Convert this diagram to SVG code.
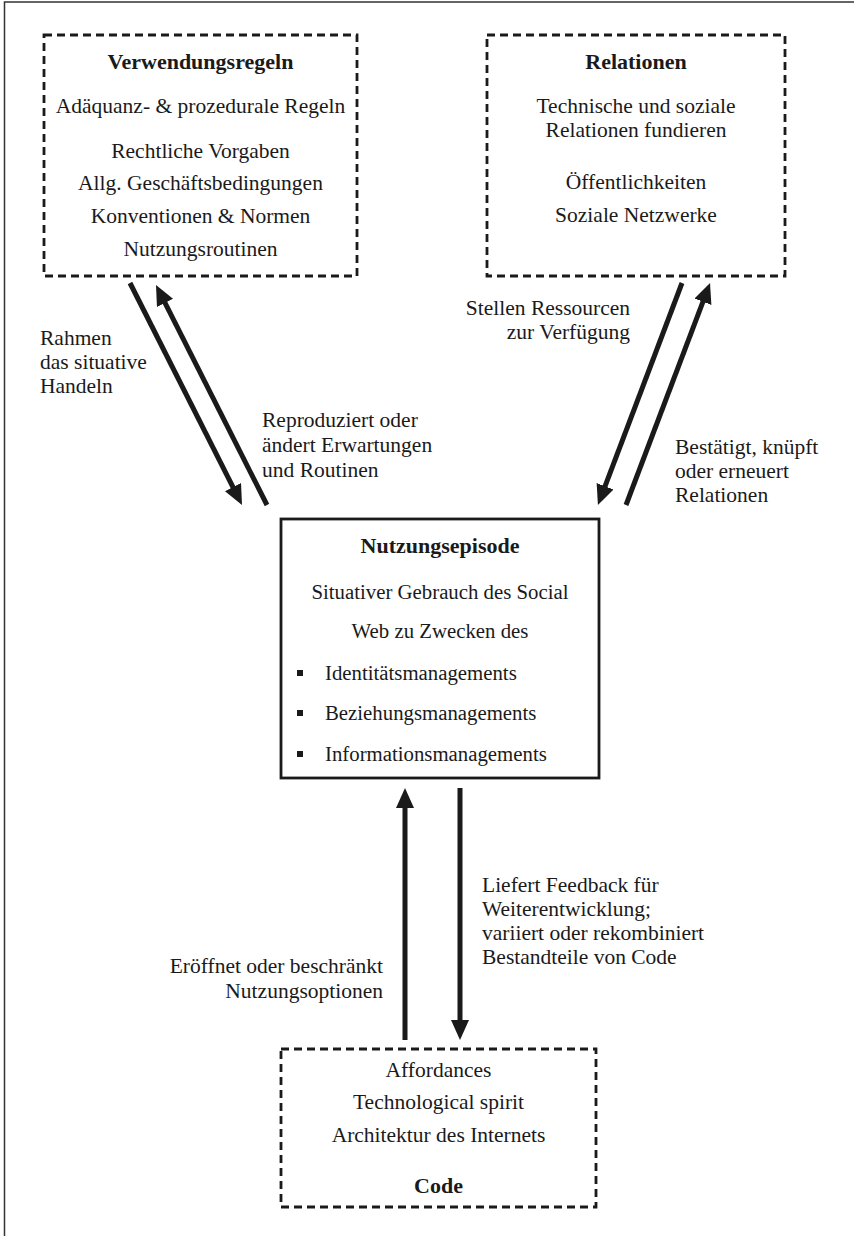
<svg xmlns="http://www.w3.org/2000/svg" width="854" height="1236" viewBox="0 0 854 1236">
  <defs>
    <style>
      .frame { fill: none; stroke: #333; stroke-width: 1.5; }
      .dashed { fill: #fff; stroke: #1a1a1a; stroke-width: 2.8; stroke-dasharray: 8 5; }
      .solid { fill: #fff; stroke: #1a1a1a; stroke-width: 2.8; }
      .t { font-family: "Liberation Serif", "Times New Roman", serif; font-size: 21.5px; fill: #1a1a1a; }
      .n { font-size: 20.8px; }
      .h { font-weight: bold; font-size: 22px; }
      .c { text-anchor: middle; }
      .r { text-anchor: end; }
      .arrow { fill: none; stroke: #1a1a1a; stroke-width: 5; marker-end: url(#head); }
    </style>
    <marker id="head" viewBox="0 0 20 18" markerUnits="userSpaceOnUse" markerWidth="20" markerHeight="18" refX="10" refY="9" orient="auto">
      <path d="M0,0 L20,9 L0,18 Z" fill="#1a1a1a"/>
    </marker>
  </defs>

  <rect width="854" height="1236" fill="#fff"/>
  <!-- outer frame: top and left edge -->
  <path class="frame" d="M4.5,1236 V2 H854"/>

  <g id="verwendungsregeln">
    <rect class="dashed" x="44" y="35" width="313" height="241"/>
    <text class="t h c" x="200.5" y="69">Verwendungsregeln</text>
    <text class="t c" x="200.5" y="113">Adäquanz- &amp; prozedurale Regeln</text>
    <text class="t c" x="200.5" y="158">Rechtliche Vorgaben</text>
    <text class="t c" x="200.5" y="190">Allg. Geschäftsbedingungen</text>
    <text class="t c" x="200.5" y="223">Konventionen &amp; Normen</text>
    <text class="t c" x="200.5" y="256">Nutzungsroutinen</text>
  </g>

  <g id="relationen">
    <rect class="dashed" x="487" y="35" width="298" height="241"/>
    <text class="t h c" x="636" y="69">Relationen</text>
    <text class="t c" x="636" y="113">Technische und soziale</text>
    <text class="t c" x="636" y="137">Relationen fundieren</text>
    <text class="t c" x="636" y="189">Öffentlichkeiten</text>
    <text class="t c" x="636" y="222">Soziale Netzwerke</text>
  </g>

  <g id="nutzungsepisode">
    <rect class="solid" x="281" y="519" width="318" height="259"/>
    <text class="t h c" x="440" y="553">Nutzungsepisode</text>
    <text class="t n c" x="440" y="599">Situativer Gebrauch des Social</text>
    <text class="t n c" x="440" y="638">Web zu Zwecken des</text>
    <rect x="297" y="670" width="6" height="6" fill="#1a1a1a"/>
    <text class="t n" x="325" y="680">Identitätsmanagements</text>
    <rect x="297" y="710" width="6" height="6" fill="#1a1a1a"/>
    <text class="t n" x="325" y="720">Beziehungsmanagements</text>
    <rect x="297" y="751" width="6" height="6" fill="#1a1a1a"/>
    <text class="t n" x="325" y="761">Informationsmanagements</text>
  </g>

  <g id="code">
    <rect class="dashed" x="281" y="1049" width="315" height="158"/>
    <text class="t c" x="438.5" y="1077">Affordances</text>
    <text class="t c" x="438.5" y="1109">Technological spirit</text>
    <text class="t c" x="438.5" y="1142">Architektur des Internets</text>
    <text class="t h c" x="438.5" y="1193">Code</text>
  </g>

  <g id="connectors">
    <path class="arrow" d="M130,283 L237.5,496.1"/>
    <path class="arrow" d="M267,505 L160.5,293.9"/>
    <path class="arrow" d="M682,283 L601.5,495.6"/>
    <path class="arrow" d="M626,505 L706.5,292.4"/>
    <path class="arrow" d="M405,1040 L405,798"/>
    <path class="arrow" d="M460,788 L460,1030"/>
  </g>

  <g id="labels">
    <text class="t" x="40" y="345">Rahmen</text>
    <text class="t" x="40" y="369">das situative</text>
    <text class="t" x="40" y="393">Handeln</text>

    <text class="t" x="262" y="427">Reproduziert oder</text>
    <text class="t" x="262" y="452">ändert Erwartungen</text>
    <text class="t" x="262" y="477">und Routinen</text>

    <text class="t r" x="630" y="315">Stellen Ressourcen</text>
    <text class="t r" x="630" y="339">zur Verfügung</text>

    <text class="t" x="675" y="454">Bestätigt, knüpft</text>
    <text class="t" x="675" y="478">oder erneuert</text>
    <text class="t" x="675" y="502">Relationen</text>

    <text class="t" x="482" y="892">Liefert Feedback für</text>
    <text class="t" x="482" y="916">Weiterentwicklung;</text>
    <text class="t" x="482" y="940">variiert oder rekombiniert</text>
    <text class="t" x="482" y="964">Bestandteile von Code</text>

    <text class="t r" x="383" y="973">Eröffnet oder beschränkt</text>
    <text class="t r" x="383" y="998">Nutzungsoptionen</text>
  </g>
</svg>
